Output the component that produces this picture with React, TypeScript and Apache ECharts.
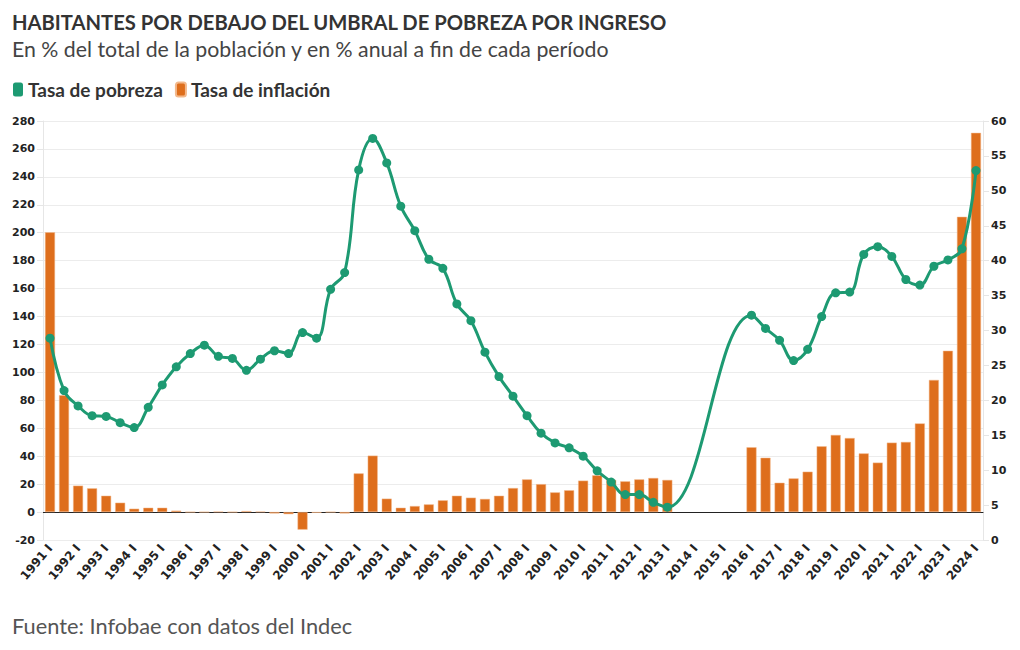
import React, { useEffect, useRef } from "react";
import * as echarts from "echarts";

const periods: string[] = [
  "1991 I", "1991 II", "1992 I", "1992 II", "1993 I", "1993 II", "1994 I", "1994 II",
  "1995 I", "1995 II", "1996 I", "1996 II", "1997 I", "1997 II", "1998 I", "1998 II",
  "1999 I", "1999 II", "2000 I", "2000 II", "2001 I", "2001 II", "2002 I", "2002 II",
  "2003 I", "2003 II", "2004 I", "2004 II", "2005 I", "2005 II", "2006 I", "2006 II",
  "2007 I", "2007 II", "2008 I", "2008 II", "2009 I", "2009 II", "2010 I", "2010 II",
  "2011 I", "2011 II", "2012 I", "2012 II", "2013 I", "2013 II", "2014 I", "2014 II",
  "2015 I", "2015 II", "2016 I", "2016 II", "2017 I", "2017 II", "2018 I", "2018 II",
  "2019 I", "2019 II", "2020 I", "2020 II", "2021 I", "2021 II", "2022 I", "2022 II",
  "2023 I", "2023 II", "2024 I",
];

const pobreza: (number | null)[] = [
  28.9, 21.4, 19.2, 17.8, 17.7, 16.8, 16.1, 19.0,
  22.2, 24.8, 26.7, 27.9, 26.3, 26.0, 24.3, 25.9,
  27.1, 26.7, 29.7, 28.9, 35.9, 38.3, 53.0, 57.5,
  54.0, 47.8, 44.3, 40.2, 38.9, 33.8, 31.4, 26.9,
  23.4, 20.6, 17.8, 15.3, 13.9, 13.2, 12.0, 9.9,
  8.3, 6.5, 6.5, 5.4, 4.7, null, null, null,
  null, null, 32.2, 30.3, 28.6, 25.7, 27.3, 32.0,
  35.4, 35.5, 40.9, 42.0, 40.6, 37.3, 36.5, 39.2,
  40.1, 41.7, 52.9,
];

const inflacion: (number | null)[] = [
  200.3, 83.6, 18.9, 17.0, 11.7, 6.7, 2.4, 3.1,
  3.1, 1.0, 0, 0, 0.3, 0, 0.7, 0.3,
  -1.0, -1.5, -12.6, -0.5, 0, -1.0, 27.7, 40.4,
  9.6, 3.1, 4.3, 5.5, 8.4, 11.7, 10.3, 9.4,
  11.7, 17.2, 23.4, 20.0, 14.1, 15.6, 22.5, 26.3,
  23.0, 22.0, 23.4, 24.4, 23.0, null, null, null,
  null, null, 46.4, 38.9, 21.0, 24.1, 28.9, 47.1,
  55.2, 53.0, 42.0, 35.4, 49.7, 50.2, 63.5, 94.6,
  115.5, 211.4, 271.5,
];

const GREEN = "#1d9a72";
const ORANGE = "#de6e1c";
const SANS = "Lato, 'Noto Sans', sans-serif";
const AXISFONT = "'DejaVu Sans', Verdana, sans-serif";

export default function App() {
  const ref = useRef<HTMLDivElement>(null);
  useEffect(() => {
    if (!ref.current) return;
    const chart = echarts.init(ref.current, null, { renderer: "svg" });
    chart.setOption({
      animation: false,
      backgroundColor: "#ffffff",
      graphic: [
        {
          type: "text",
          left: 12,
          top: 12,
          style: {
            text: "HABITANTES POR DEBAJO DEL UMBRAL DE POBREZA POR INGRESO",
            fontFamily: SANS,
            fontWeight: "bold",
            fontSize: 20.2,
            fill: "#333333",
          },
        },
        {
          type: "text",
          left: 12,
          top: 38,
          style: {
            text: "En % del total de la población y en % anual a fin de cada período",
            fontFamily: SANS,
            fontSize: 21.3,
            fill: "#444444",
          },
        },
        {
          type: "text",
          left: 12,
          top: 614,
          style: {
            text: "Fuente: Infobae con datos del Indec",
            fontFamily: SANS,
            fontSize: 21.8,
            fill: "#555555",
          },
        },
      ],
      legend: {
        left: 8,
        top: 75,
        icon: "roundRect",
        itemWidth: 10,
        itemHeight: 14,
        itemGap: 12,
        selectedMode: false,
        textStyle: {
          fontFamily: SANS,
          fontWeight: "bold",
          fontSize: 19,
          color: "#333333",
        },
        data: ["Tasa de pobreza", "Tasa de inflación"],
      },
      grid: { left: 43, right: 37, top: 121, bottom: 110, containLabel: false },
      xAxis: {
        type: "category",
        data: periods,
        boundaryGap: true,
        axisLine: { lineStyle: { color: "#222222", width: 1 } },
        axisTick: { alignWithLabel: true, interval: 0, length: 5, lineStyle: { color: "#222222" } },
        axisLabel: {
          interval: 1,
          rotate: 50,
          fontFamily: AXISFONT,
          fontWeight: "bold",
          fontSize: 12,
          color: "#222222",
          margin: 6,
          hideOverlap: false,
        },
      },
      yAxis: [
        {
          type: "value",
          min: -20,
          max: 280,
          interval: 20,
          position: "left",
          axisLine: { show: true, lineStyle: { color: "#e6e6e6" } },
          axisTick: { show: true, length: 6, lineStyle: { color: "#e6e6e6" } },
          splitLine: { show: true, lineStyle: { color: "#ececec" } },
          axisLabel: {
            fontFamily: AXISFONT,
            fontWeight: "bold",
            fontSize: 11,
            color: "#222222",
            margin: 8,
          },
        },
        {
          type: "value",
          min: 0,
          max: 60,
          interval: 5,
          position: "right",
          axisLine: { show: true, lineStyle: { color: "#e6e6e6" } },
          axisTick: { show: true, length: 6, lineStyle: { color: "#e6e6e6" } },
          splitLine: { show: false },
          axisLabel: {
            fontFamily: AXISFONT,
            fontWeight: "bold",
            fontSize: 11,
            color: "#222222",
            margin: 8,
          },
        },
      ],
      series: [
        {
          name: "Tasa de pobreza",
          type: "line",
          yAxisIndex: 1,
          data: pobreza,
          smooth: 0.4,
          connectNulls: true,
          symbol: "circle",
          symbolSize: 9,
          z: 5,
          itemStyle: { color: GREEN },
          lineStyle: { color: GREEN, width: 3 },
        },
        {
          name: "Tasa de inflación",
          type: "bar",
          yAxisIndex: 0,
          data: inflacion,
          barWidth: 10,
          z: 2,
          itemStyle: { color: ORANGE, borderColor: "#f3b98c", borderWidth: 0.5 },
        },
      ],
    });
    return () => chart.dispose();
  }, []);
  return (
    <div
      ref={ref}
      style={{ position: "fixed", left: 0, top: 0, width: 1020, height: 650 }}
    />
  );
}
